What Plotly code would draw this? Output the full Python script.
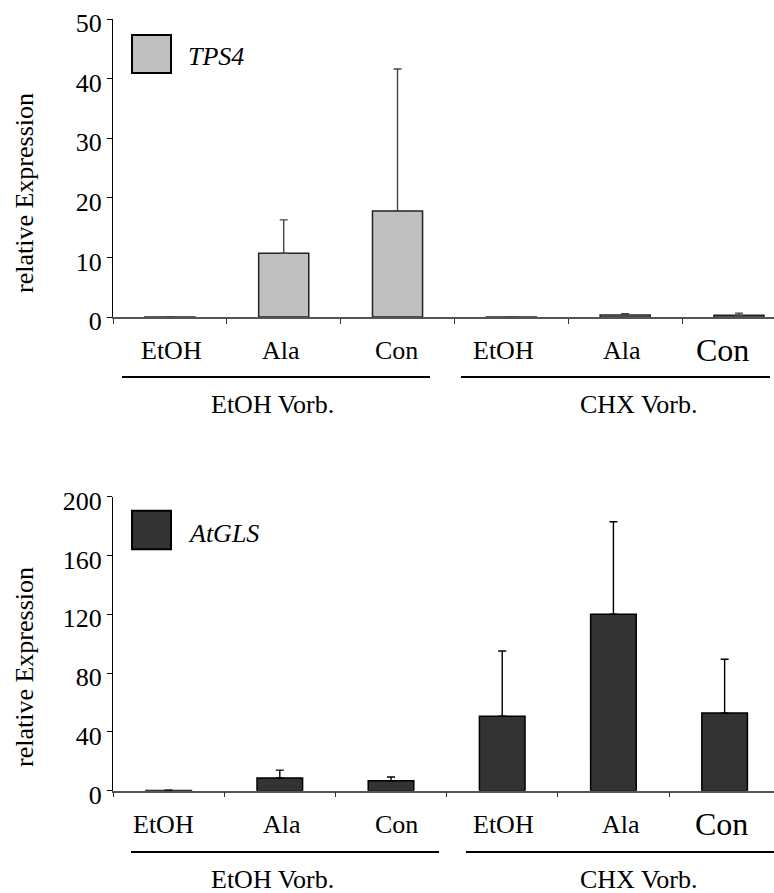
import plotly.graph_objects as go

W, H = 774, 893

# Treatments along the x axis, grouped by pre-treatment
treatments = ["EtOH", "Ala", "Con", "EtOH", "Ala", "Con"]
pretreatments = ["EtOH Vorb.", "CHX Vorb."]
genes = ["TPS4", "AtGLS"]

# Relative expression (mean and upper error) per treatment
tps4_mean = [0.02, 10.7, 17.8, 0.02, 0.35, 0.3]
tps4_err = [0.03, 5.6, 23.8, 0.03, 0.2, 0.35]
atgls_mean = [0.1, 8.6, 6.8, 50.6, 120.0, 52.8]
atgls_err = [0.2, 5.4, 2.5, 44.4, 63.0, 36.6]

tps4_ticks = [0, 10, 20, 30, 40, 50]
atgls_ticks = [0, 40, 80, 120, 160, 200]

FONT = "Liberation Serif, Times New Roman, serif"
FS = 26


def px_x(v):
    return v / W


def px_y(v):
    return 1 - v / H


panels = [
    dict(gene=genes[0], mean=tps4_mean, err=tps4_err, ticks=tps4_ticks,
         fill="#c0c0c0", edge="#222222", errc="#444444",
         top=19, bottom=317, xmax=5.308, bw=0.44,
         lab_y=350, lab_shift=[2, -3, -1, -8, -3, -16],
         line_y=377, lines=[(122, 430), (461, 770)], grp_y=404,
         grp_x=[272, 639], title_y=193, leg=(132, 35, 171, 73), leg_ty=57),
    dict(gene=genes[1], mean=atgls_mean, err=atgls_err, ticks=atgls_ticks,
         fill="#333333", edge="#000000", errc="#000000",
         top=496.7, bottom=790.7, xmax=5.444, bw=0.41,
         lab_y=824, lab_shift=[-5, 2, 5, 1, 8, -3],
         line_y=852, lines=[(131, 439), (466, 774)], grp_y=879,
         grp_x=[272, 639], title_y=667, leg=(132, 510.7, 171, 549.3), leg_ty=533),
]

fig = go.Figure()
annotations = []
shapes = []

for k, p in enumerate(panels):
    sfx = "" if k == 0 else str(k + 1)
    xa, ya = "x" + sfx, "y" + sfx
    fig.add_trace(go.Bar(
        x=list(range(len(treatments))), y=p["mean"],
        width=p["bw"],
        marker=dict(color=p["fill"], line=dict(color=p["edge"], width=1.5)),
        error_y=dict(type="data", array=p["err"], symmetric=False,
                     arrayminus=[0] * len(p["err"]),
                     color=p["errc"], thickness=1.4, width=4),
        xaxis=xa, yaxis=ya, showlegend=False, name=p["gene"],
    ))

    ymax = p["ticks"][-1]
    fig.update_layout(**{
        "xaxis" + sfx: dict(
            domain=[px_x(113), 1], range=[-0.5, p["xmax"]],
            tickvals=[i - 0.5 for i in range(len(treatments) + 1)],
            showticklabels=False, ticks="outside", ticklen=5,
            tickwidth=1.2, tickcolor="#333333",
            showline=True, linecolor="#555555", linewidth=1.5,
            showgrid=False, zeroline=False, anchor=ya, fixedrange=True),
        "yaxis" + sfx: dict(
            domain=[px_y(p["bottom"]), px_y(p["top"])], range=[0, ymax],
            tickvals=p["ticks"], ticks="outside", ticklen=5, tickwidth=1.2,
            tickcolor="#000000", showline=True, linecolor="#000000",
            linewidth=1.2, showgrid=False, zeroline=False, anchor=xa,
            tickfont=dict(family=FONT, size=FS, color="#000000"),
            ticklabelshift=4, fixedrange=True),
    })

    # Treatment labels under each bar
    for i, t in enumerate(treatments):
        size = 32 if i == len(treatments) - 1 else FS
        annotations.append(dict(
            text=t, x=i, xref=xa, y=px_y(p["lab_y"]), yref="paper",
            xanchor="center", yanchor="middle", xshift=p["lab_shift"][i],
            showarrow=False, font=dict(family=FONT, size=size, color="#000000")))

    # Pre-treatment group bars and captions
    for (x0, x1), gx, g in zip(p["lines"], p["grp_x"], pretreatments):
        shapes.append(dict(type="line", xref="paper", yref="paper",
                           x0=px_x(x0), x1=px_x(x1),
                           y0=px_y(p["line_y"]), y1=px_y(p["line_y"]),
                           line=dict(color="#000000", width=2.2)))
        annotations.append(dict(
            text=g, x=px_x(gx), xref="paper", y=px_y(p["grp_y"]),
            yref="paper", xanchor="center", yanchor="middle", showarrow=False,
            font=dict(family=FONT, size=FS, color="#000000")))

    # Axis title
    annotations.append(dict(
        text="relative Expression", x=px_x(24), xref="paper",
        y=px_y(p["title_y"]), yref="paper", textangle=-90,
        xanchor="center", yanchor="middle", showarrow=False,
        font=dict(family=FONT, size=FS, color="#000000")))

    # Gene key: filled box and italic gene name
    lx0, ly0, lx1, ly1 = p["leg"]
    shapes.append(dict(type="rect", xref="paper", yref="paper",
                       x0=px_x(lx0), x1=px_x(lx1), y0=px_y(ly1), y1=px_y(ly0),
                       fillcolor=p["fill"], line=dict(color="#000000", width=2)))
    annotations.append(dict(
        text="<i>" + p["gene"] + "</i>", x=px_x(186), xref="paper",
        y=px_y(p["leg_ty"]), yref="paper", xanchor="left", yanchor="middle",
        showarrow=False, font=dict(family=FONT, size=FS, color="#000000")))

fig.update_layout(
    width=W, height=H,
    margin=dict(l=0, r=0, t=0, b=0, autoexpand=False),
    paper_bgcolor="white", plot_bgcolor="white",
    bargap=0.5, annotations=annotations, shapes=shapes,
    font=dict(family=FONT, color="#000000"),
)

fig.write_html("out.html", config={"displayModeBar": False})
